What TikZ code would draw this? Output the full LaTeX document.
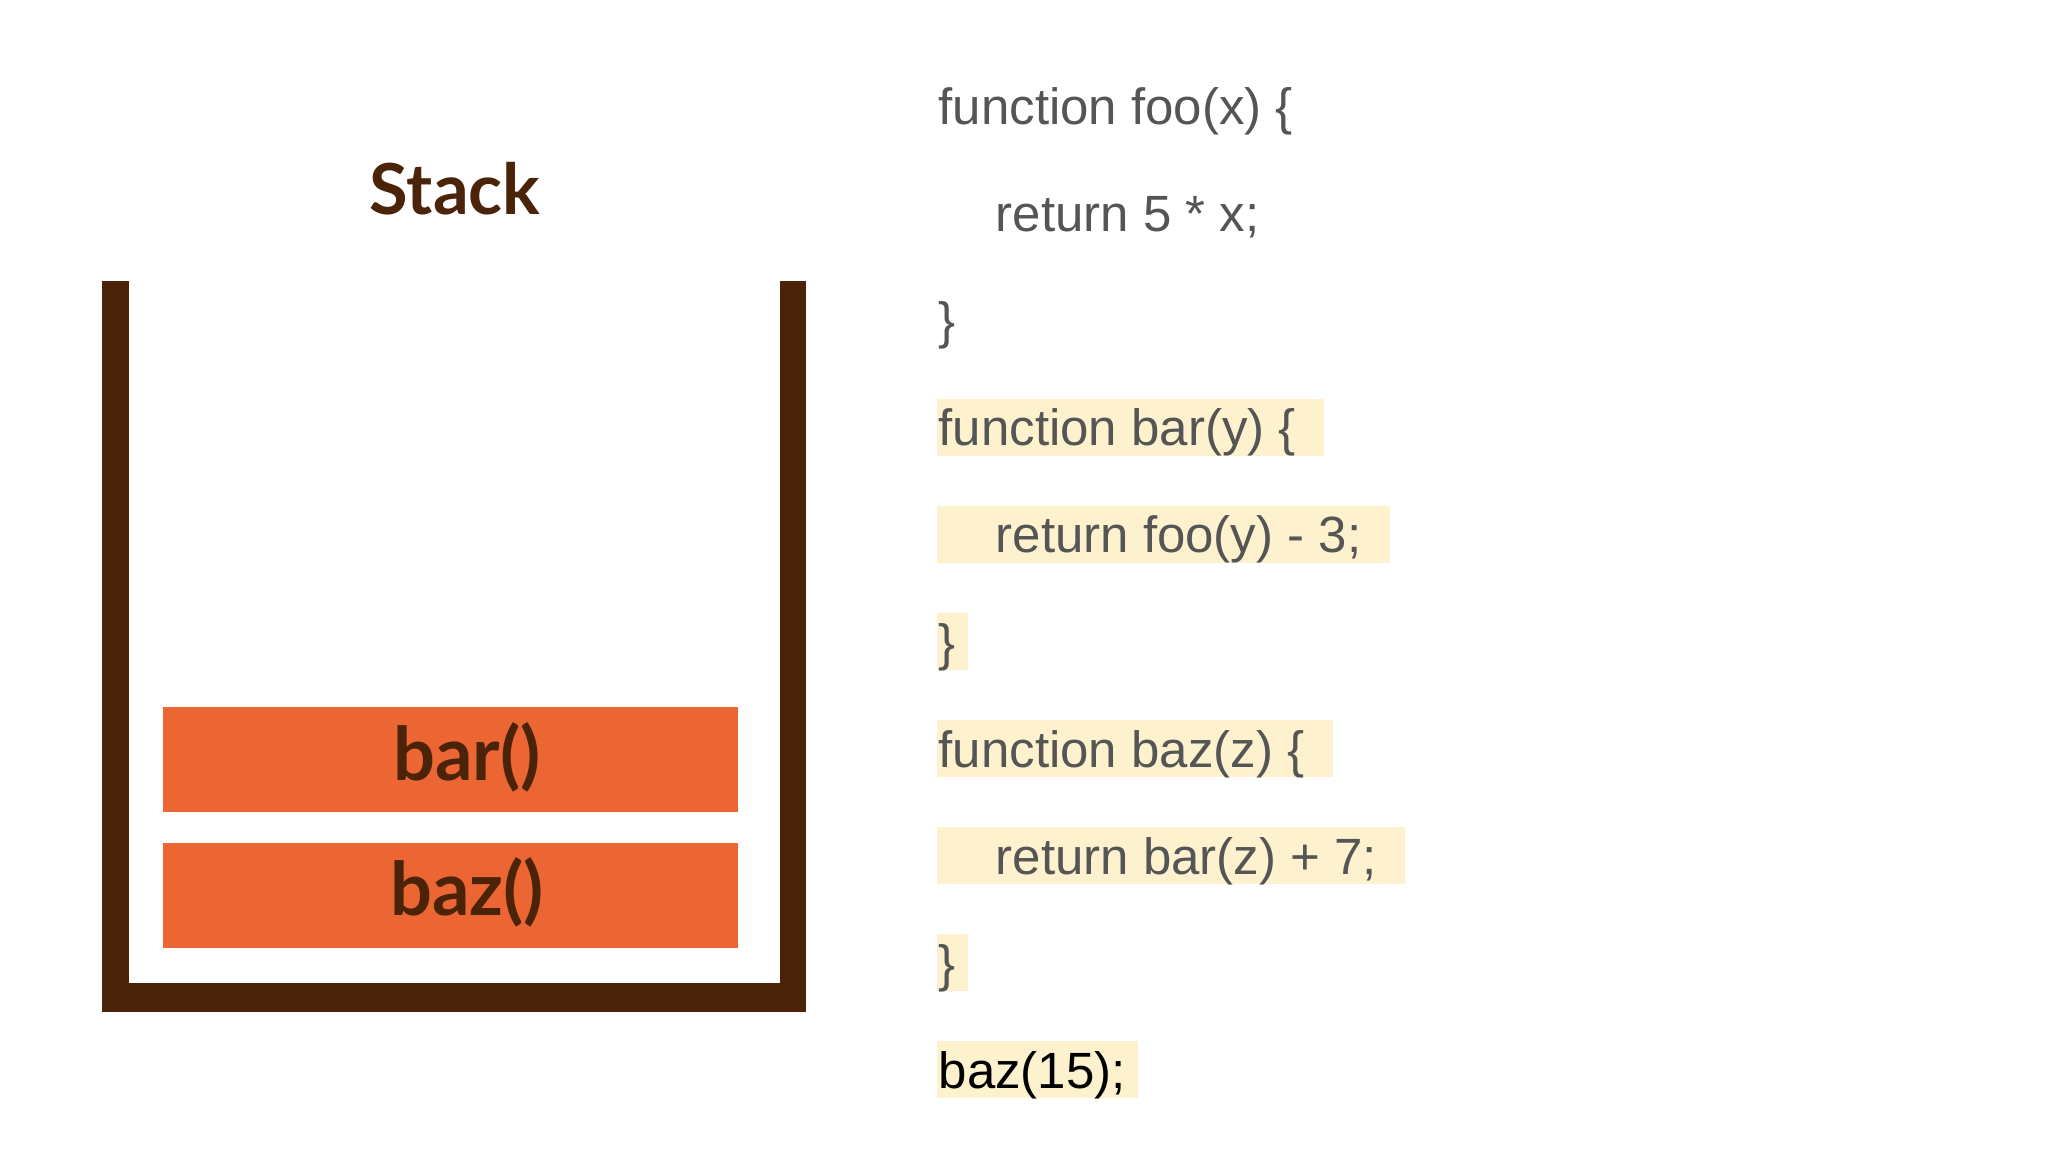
\documentclass[tikz,border=0pt]{standalone}
\usepackage{fontspec}
\setmainfont{Liberation Sans}
\newfontfamily\stackfont{Lato}
\definecolor{wallbrown}{HTML}{4A2308}
\definecolor{frameorange}{HTML}{EC6633}
\definecolor{hilite}{HTML}{FEF2CE}
\definecolor{codegray}{HTML}{555555}
\tikzset{
  wall/.style={fill=wallbrown, draw=none},
  frame/.style={fill=frameorange, draw=none},
  framelabel/.style={font=\stackfont\bfseries\fontsize{21}{24}\selectfont, text=wallbrown, anchor=base, inner sep=0pt, draw=wallbrown, draw opacity=0, text opacity=1},
  codeline/.style={font=\fontsize{14.5}{17}\selectfont, text=codegray, anchor=base west, inner sep=0pt},
  hl/.style={fill=hilite, draw=none}
}
\begin{document}
\begin{tikzpicture}[x=0.01cm,y=-0.01cm]
\useasboundingbox (0,0) rectangle (2048,1152);
\fill[white] (0,0) rectangle (2048,1152);

% title
\node[framelabel, font=\stackfont\bfseries\fontsize{20}{23}\selectfont] (title) at (455,215) {Stack};

% stack container
\fill[wall] (102,281) rectangle (129,1012);
\fill[wall] (780,281) rectangle (806,1012);
\fill[wall] (102,983) rectangle (806,1012);

% frames
\node[frame, minimum width=575*0.01cm, minimum height=105*0.01cm, inner sep=0pt] (barbox) at (450.5,759.5) {};
\node[frame, minimum width=575*0.01cm, minimum height=105*0.01cm, inner sep=0pt] (bazbox) at (450.5,895.5) {};
\node[framelabel] (barlbl) at (467,780) {bar()};
\node[framelabel] (bazlbl) at (467,915) {baz()};

% highlights
\fill[hl] (937,399) rectangle (1324,456);
\fill[hl] (937,506) rectangle (1390,563);
\fill[hl] (937,613) rectangle (968,670);
\fill[hl] (937,720) rectangle (1333,777);
\fill[hl] (937,827) rectangle (1405,884);
\fill[hl] (937,934) rectangle (968,991);
\fill[hl] (937,1041) rectangle (1138,1098);

% code
\node[codeline] (l1) at (938,125) {function foo(x) \{};
\node[codeline] (l2) at (995,232) {return 5 * x;};
\node[codeline] (l3) at (938,339) {\}};
\node[codeline] (l4) at (938,446) {function bar(y) \{};
\node[codeline] (l5) at (995,553) {return foo(y) - 3;};
\node[codeline] (l6) at (938,660) {\}};
\node[codeline] (l7) at (938,767) {function baz(z) \{};
\node[codeline] (l8) at (995,874) {return bar(z) + 7;};
\node[codeline] (l9) at (938,981) {\}};
\node[codeline, text=black] (l10) at (938,1088) {baz(15);};
\end{tikzpicture}
\end{document}
